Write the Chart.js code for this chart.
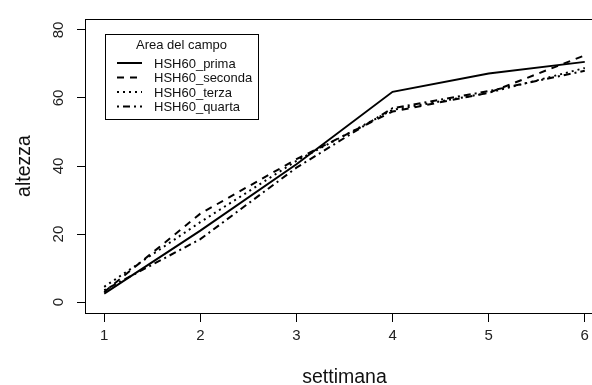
<!DOCTYPE html>
<html>
<head>
<meta charset="utf-8">
<script src="https://cdn.jsdelivr.net/npm/chart.js@4.4.0/dist/chart.umd.min.js"></script>
<style>
  html, body { margin: 0; padding: 0; background: #fff; overflow: hidden; }
  #wrap { width: 606px; height: 385px; }
</style>
</head>
<body>
<div id="wrap"><canvas id="chart" width="606" height="385"></canvas></div>
<script>
/** DATA */
const weeks = [1, 2, 3, 4, 5, 6];
const xTicks = [1, 2, 3, 4, 5, 6];
const yTicks = [0, 20, 40, 60, 80];

const prima = [2.5, 21, 40.5, 61.8, 67.2, 70.6];
const seconda = [3, 26, 42, 56, 61.5, 72.5];
const terza = [4.5, 23.5, 41.5, 56.5, 61.5, 68.8];
const quarta = [3.5, 18.5, 39.5, 57, 62, 68];

const seriesNames = ['HSH60_prima', 'HSH60_seconda', 'HSH60_terza', 'HSH60_quarta'];
const seriesDash = [[], [7, 6], [2, 4], [2, 4, 7, 4]];
const legendTitle = 'Area del campo';

const FONT = 'Liberation Sans, Arial, sans-serif';

function toPoints(values) {
    return values.map(function (v, i) { return { x: weeks[i], y: v }; });
}

// box around the plot area (like R's box())
const boxPlugin = {
    id: 'box',
    afterDraw(chart) {
        const a = chart.chartArea;
        const ctx = chart.ctx;
        ctx.save();
        ctx.strokeStyle = '#000';
        ctx.lineWidth = 1;
        ctx.strokeRect(a.left + 0.5, a.top + 0.5, a.right - a.left, a.bottom - a.top);
        ctx.restore();
    }
};

// legend with title, drawn inside the plot
const boxLegend = {
    id: 'boxLegend',
    afterDraw(chart) {
        const ctx = chart.ctx;
        const left = 105, top = 34, w = 153, h = 85;
        ctx.save();
        ctx.fillStyle = '#fff';
        ctx.fillRect(left, top, w, h);
        ctx.strokeStyle = '#000';
        ctx.lineWidth = 1;
        ctx.strokeRect(left + 0.5, top + 0.5, w, h);

        ctx.fillStyle = '#111';
        ctx.font = '13px ' + FONT;
        ctx.textBaseline = 'middle';
        ctx.textAlign = 'center';
        ctx.fillText(legendTitle, left + w / 2, top + 11);

        ctx.textAlign = 'left';
        chart.data.datasets.forEach(function (ds, i) {
            const y = top + 29 + i * 14.5;
            ctx.beginPath();
            ctx.setLineDash(ds.borderDash);
            ctx.lineWidth = ds.borderWidth;
            ctx.strokeStyle = ds.borderColor;
            ctx.moveTo(117, y);
            ctx.lineTo(142, y);
            ctx.stroke();
            ctx.setLineDash([]);
            ctx.fillText(ds.label, 154, y + 1);
        });
        ctx.restore();
    }
};

const datasets = [prima, seconda, terza, quarta].map(function (vals, i) {
    return {
        label: seriesNames[i],
        data: toPoints(vals),
        borderColor: '#000',
        borderWidth: 2,
        borderDash: seriesDash[i],
        pointRadius: 0,
        fill: false,
        tension: 0
    };
});

new Chart(document.getElementById('chart'), {
    type: 'line',
    data: { datasets: datasets },
    options: {
        responsive: false,
        animation: false,
        layout: { padding: { top: 16, right: 2, left: 0, bottom: 0 } },
        plugins: {
            legend: { display: false },
            tooltip: { enabled: false }
        },
        scales: {
            x: {
                type: 'linear',
                min: 0.8,
                max: 6.2,
                afterBuildTicks: function (scale) {
                    scale.ticks = xTicks.map(function (v) { return { value: v }; });
                },
                afterFit: function (scale) { scale.height = 72; },
                grid: {
                    drawOnChartArea: false,
                    drawTicks: true,
                    tickLength: 9,
                    tickColor: '#000',
                    color: '#000'
                },
                border: { display: false },
                ticks: {
                    color: '#222',
                    font: { family: FONT, size: 15 },
                    padding: 5,
                    maxRotation: 0,
                    callback: function (v) { return String(v); }
                },
                title: {
                    display: true,
                    text: 'settimana',
                    color: '#111',
                    font: { family: FONT, size: 19.5 },
                    padding: { top: 0, bottom: -4 }
                }
            },
            y: {
                type: 'linear',
                min: -3.2,
                max: 83.2,
                afterBuildTicks: function (scale) {
                    scale.ticks = yTicks.map(function (v) { return { value: v }; });
                },
                afterFit: function (scale) { scale.width = 85; },
                grid: {
                    drawOnChartArea: false,
                    drawTicks: true,
                    tickLength: 8,
                    tickColor: '#000',
                    color: '#000'
                },
                border: { display: false },
                ticks: {
                    color: '#222',
                    font: { family: FONT, size: 15 },
                    padding: 10,
                    minRotation: 90,
                    maxRotation: 90,
                    crossAlign: 'center'
                },
                title: {
                    display: true,
                    text: 'altezza',
                    color: '#111',
                    font: { family: FONT, size: 19.5 },
                    padding: { top: 13, bottom: 0 }
                }
            }
        }
    },
    plugins: [boxPlugin, boxLegend]
});
</script>
</body>
</html>
